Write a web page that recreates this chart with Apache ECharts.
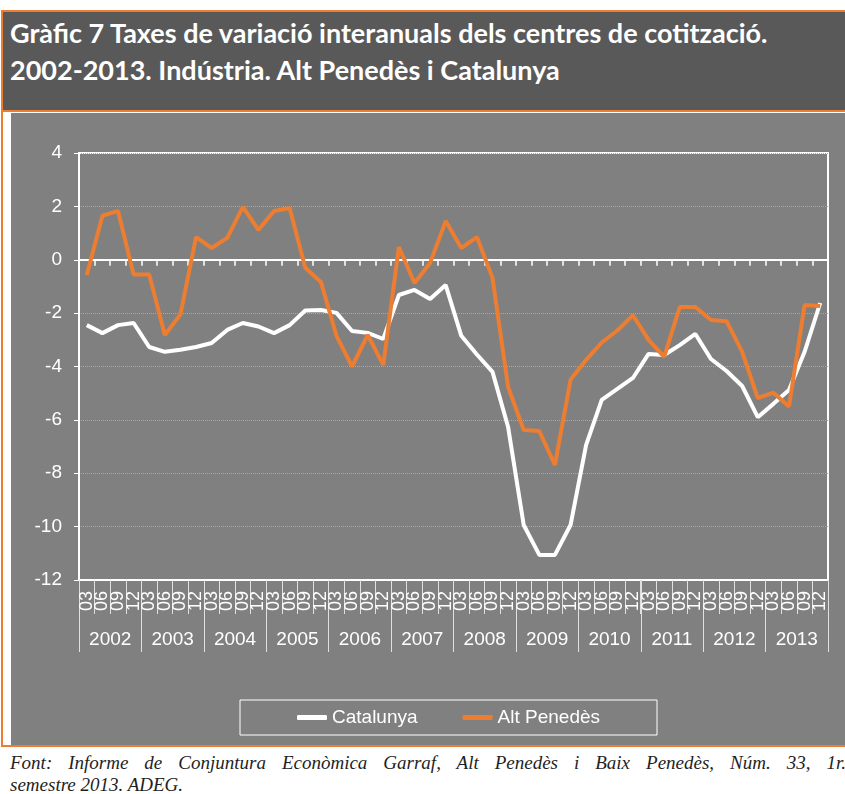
<!DOCTYPE html>
<html>
<head>
<meta charset="utf-8">
<script src="https://cdn.jsdelivr.net/npm/echarts@6/dist/echarts.min.js"></script>
<style>
  html, body { margin: 0; padding: 0; background: #fff; }
  body { width: 845px; height: 794px; position: relative; overflow: hidden; }
  .frame { position: absolute; left: 1px; top: 10px; width: 860px; height: 737px;
           border-left: 2px solid #ED7D31; border-top: 2px solid #ED7D31; border-bottom: 2px solid #ED7D31; box-sizing: border-box; }
  .titleBox { position: absolute; left: 3px; top: 12px; width: 842px; height: 98px; background: #595959;
              border-bottom: 2px solid #ED7D31; }
  .titleBox div { position: absolute; left: 7px; color: #fff; font-family: Lato, "Open Sans", sans-serif;
                  font-weight: bold; font-size: 27px; line-height: 32px; white-space: nowrap; }
  #chart { position: absolute; left: 11px; top: 113px; width: 834px; height: 632px; background: #808080; }
  .footer { position: absolute; left: 10px; width: 836px; font-family: "Liberation Serif", serif;
            font-style: italic; font-size: 19px; line-height: 22px; color: #1f1f1f; white-space: nowrap; }
  .footer.l1 { top: 752px; text-align: justify; text-align-last: justify; white-space: normal; }
  .footer.l2 { top: 774px; }
</style>
</head>
<body>
<div class="frame"></div>
<div class="titleBox">
  <div style="top:5px">Gràfic 7 Taxes de variació interanuals dels centres de cotització.</div>
  <div style="top:42px">2002-2013. Indústria. Alt Penedès i Catalunya</div>
</div>
<div id="chart"></div>
<div class="footer l1">Font: Informe de Conjuntura Econòmica Garraf, Alt Penedès i Baix Penedès, Núm. 33, 1r.</div>
<div class="footer l2">semestre 2013. ADEG.</div>

<script>
// etiquetes de l'eix
var years = ['2002', '2003', '2004', '2005', '2006', '2007', '2008', '2009', '2010', '2011', '2012', '2013'];
var quarterLabels = ['03', '06', '09', '12'];

// taxes de variació interanual (%)
var catalunya = [-2.45, -2.75, -2.45, -2.37, -3.27, -3.45, -3.37, -3.27, -3.12, -2.63, -2.37, -2.5,
  -2.75, -2.45, -1.9, -1.88, -1.99, -2.67, -2.74, -2.97, -1.32, -1.13, -1.47, -0.95,
  -2.85, -3.55, -4.2, -6.27, -9.94, -11.06, -11.06, -9.94, -6.94, -5.25, -4.84, -4.43,
  -3.53, -3.57, -3.2, -2.78, -3.72, -4.17, -4.73, -5.9, -5.4, -4.88, -3.45, -1.62];
var altPenedes = [-0.57, 1.65, 1.83, -0.55, -0.55, -2.82, -2.05, 0.85, 0.44, 0.82, 1.98, 1.12,
  1.83, 1.94, -0.3, -0.83, -2.85, -4.0, -2.82, -3.94, 0.48, -0.87, -0.12, 1.45,
  0.44, 0.85, -0.68, -4.77, -6.38, -6.42, -7.69, -4.5, -3.75, -3.1, -2.65, -2.08,
  -3.0, -3.64, -1.77, -1.77, -2.26, -2.3, -3.45, -5.18, -4.98, -5.5, -1.7, -1.73];

var categories = [];
years.forEach(function (y) {
  quarterLabels.forEach(function (q) { categories.push(y + '-' + q); });
});

var chart = echarts.init(document.getElementById('chart'));
var font = 'Liberation Sans, Arial, sans-serif';

var option = {
  backgroundColor: '#808080',
  animation: false,
  grid: {
    left: 68, top: 40, right: 17, bottom: 165,
    show: true, borderColor: '#ffffff', borderWidth: 2, backgroundColor: 'transparent'
  },
  legend: {
    left: 229, top: 587,
    padding: [8, 57, 8, 57],
    borderColor: '#ffffff', borderWidth: 1,
    itemGap: 45, itemWidth: 30, itemHeight: 5,
    icon: 'roundRect',
    textStyle: { color: '#ffffff', fontSize: 19, fontFamily: font },
    data: ['Catalunya', 'Alt Penedès']
  },
  xAxis: [{
    // línia del zero amb marques
    type: 'category', data: categories, position: 'bottom',
    axisLine: { onZero: true, lineStyle: { color: '#ffffff', width: 2 } },
    axisTick: { show: true, length: 6, interval: 0, lineStyle: { color: '#ffffff', width: 1.5 } },
    axisLabel: { show: false }
  }, {
    // trimestres
    type: 'category', data: categories, position: 'bottom',
    axisLine: { onZero: false, lineStyle: { color: '#ffffff', width: 2 } },
    axisTick: { show: true, length: 34, interval: 0, lineStyle: { color: '#e0e0e0', width: 1 } },
    axisLabel: {
      interval: 0, rotate: 90, margin: 11, color: '#ffffff', fontSize: 18, fontFamily: font,
      formatter: function (v) { return v.split('-')[1]; }
    }
  }, {
    // anys
    type: 'category', data: years, position: 'bottom',
    axisLine: { show: false, onZero: false },
    axisTick: { show: true, length: 72, interval: 0, lineStyle: { color: '#e0e0e0', width: 1 } },
    axisLabel: { interval: 0, margin: 50, color: '#ffffff', fontSize: 19, fontFamily: font }
  }],
  yAxis: {
    type: 'value', min: -12, max: 4, interval: 2,
    axisLine: { show: true, lineStyle: { color: '#ffffff', width: 2 } },
    axisTick: { show: true, length: 5, lineStyle: { color: '#ffffff' } },
    axisLabel: { color: '#ffffff', fontSize: 19, fontFamily: font, margin: 17 },
    splitLine: { lineStyle: { color: '#a9a9a9', type: 'dotted', width: 1 } }
  },
  series: [{
    name: 'Catalunya', type: 'line', data: catalunya, xAxisIndex: 0,
    symbol: 'none', itemStyle: { color: '#ffffff' },
    lineStyle: { color: '#ffffff', width: 4 }
  }, {
    name: 'Alt Penedès', type: 'line', data: altPenedes, xAxisIndex: 0,
    symbol: 'none', itemStyle: { color: '#ED7D31' },
    lineStyle: { color: '#ED7D31', width: 4 }
  }]
};

chart.setOption(option);
</script>
</body>
</html>
